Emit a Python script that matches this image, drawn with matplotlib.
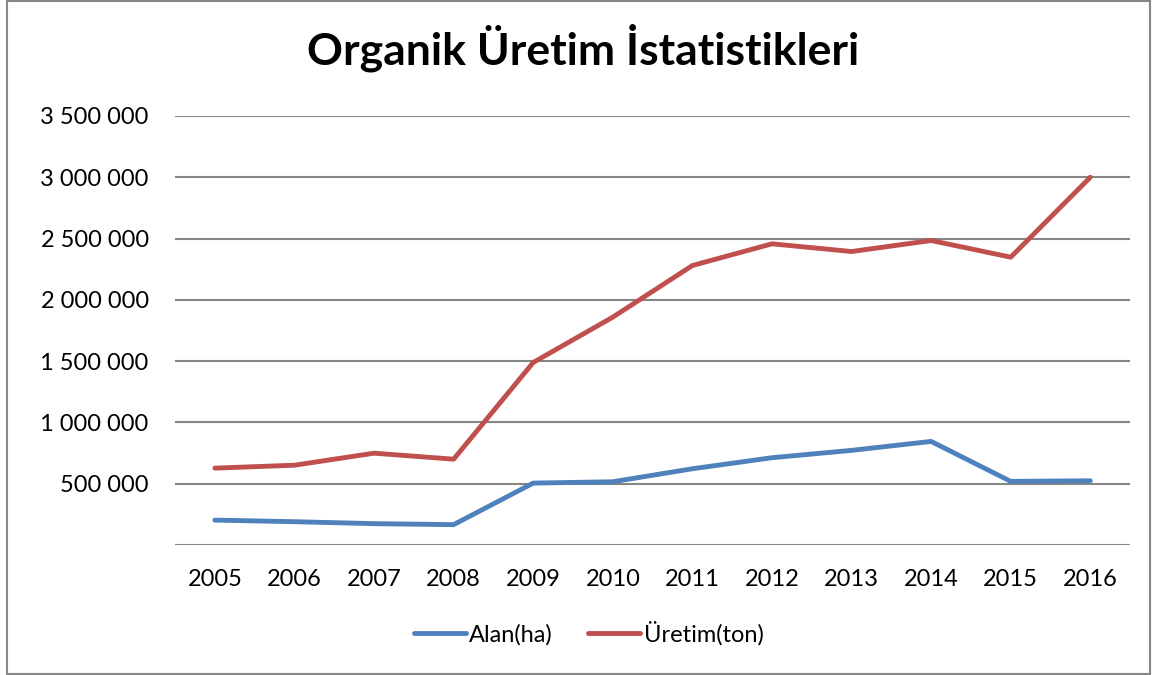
import matplotlib.pyplot as plt
from matplotlib.patches import Rectangle
from matplotlib.ticker import FuncFormatter

plt.rcParams['font.family'] = ['Lato', 'DejaVu Sans']

# data
years = ['2005', '2006', '2007', '2008', '2009', '2010',
         '2011', '2012', '2013', '2014', '2015', '2016']
alan = [203000, 190000, 174000, 166000, 505000, 516000,
        622000, 712000, 772000, 845000, 519000, 524000]
uretim = [627000, 651000, 749000, 700000, 1489000, 1859000,
          2280000, 2457000, 2394000, 2484000, 2348000, 3000000]

fig = plt.figure(figsize=(11.52, 6.75), dpi=100)
ax = fig.add_axes([0.152, 0.1926, 0.829, 0.6356])

x = range(len(years))
ax.plot(x, alan, color='#4F81BD', lw=3.5, solid_capstyle='round',
        solid_joinstyle='round', label='Alan(ha)', zorder=3)
ax.plot(x, uretim, color='#C0504D', lw=3.5, solid_capstyle='round',
        solid_joinstyle='round', label='Üretim(ton)', zorder=3)

ax.set_xlim(-0.5, len(years) - 0.5)
ax.set_ylim(0, 3500000)
ax.set_yticks(range(0, 3500001, 500000))
ax.yaxis.set_major_formatter(FuncFormatter(
    lambda v, p: '' if v == 0 else f'{int(v):,}'.replace(',', ' ')))
ax.set_xticks(list(x))
ax.set_xticklabels(years)
ax.grid(axis='y', color='#868686', lw=1.5, zorder=0)
for s in ax.spines.values():
    s.set_visible(False)
ax.tick_params(length=0, labelsize=17, colors='black')
ax.tick_params(axis='y', pad=19)
ax.tick_params(axis='x', pad=17)

fig.suptitle('Organik Üretim İstatistikleri', x=0.506, y=0.965,
             fontsize=32, fontweight='bold')

fig.legend(loc='center', bbox_to_anchor=(0.511, 0.062), ncol=2,
           frameon=False, fontsize=17, handlelength=2.2,
           handletextpad=0.15, columnspacing=1.5)

fig.patches.append(Rectangle((0.006, 0.002), 0.992, 0.996,
                             transform=fig.transFigure, fill=False,
                             edgecolor='#868686', lw=1.5))

fig.savefig('out.png', dpi=100)
